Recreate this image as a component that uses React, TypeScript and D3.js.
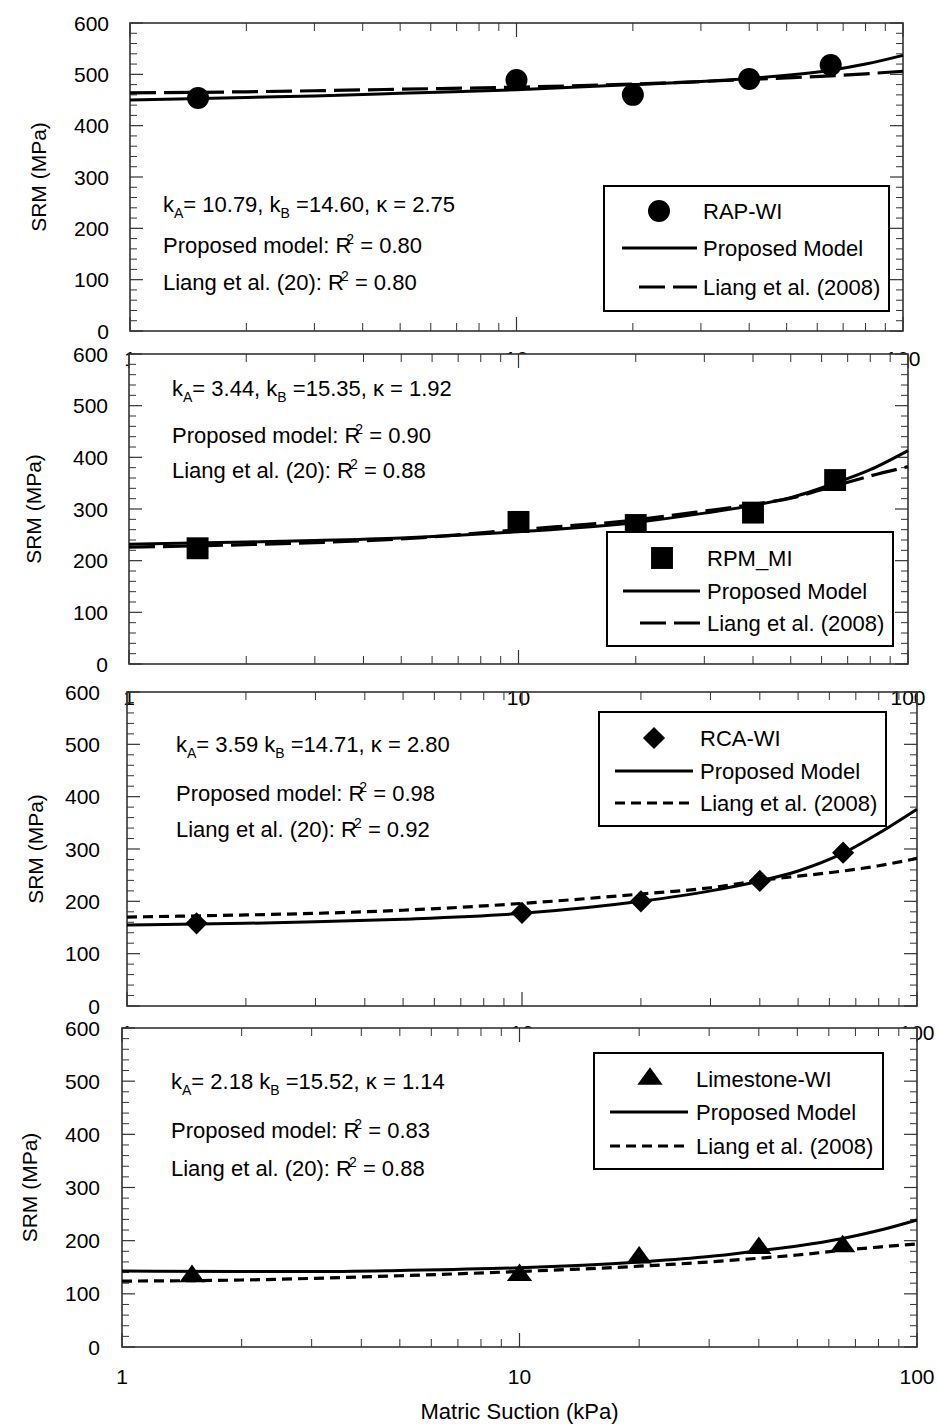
import React from "react";
import * as d3 from "d3";

// ---------- data ----------
const suctionPoints = [1.5, 10, 20, 40, 65];
const rapWI = [454, 489, 460, 491, 518];
const rpmMI = [224, 275, 269, 293, 356];
const rcaWI = [158, 178, 200, 239, 293];
const limestoneWI = [133, 135, 168, 186, 189];

const curveSuction = [1, 2, 3, 5, 10, 20, 30, 40, 50, 65, 80, 100];
const rapProposed = [450, 455, 458, 463, 470, 480, 486, 492, 498, 508, 520, 537];
const rapLiang = [464, 466, 468, 471, 475, 481, 486, 490, 493, 497, 501, 506];
const rpmProposed = [232, 236, 239, 244, 256, 274, 292, 307, 322, 350, 376, 413];
const rpmLiang = [226, 231, 235, 242, 260, 279, 296, 309, 321, 345, 364, 382];
const rcaProposed = [155, 158, 161, 166, 177, 200, 220, 239, 258, 292, 330, 376];
const rcaLiang = [170, 174, 177, 183, 196, 214, 226, 240, 248, 258, 268, 282];
const limeProposed = [143, 142, 142, 144, 149, 160, 170, 181, 190, 204, 219, 239];
const limeLiang = [124, 126, 129, 134, 142, 152, 160, 167, 173, 182, 188, 194];

const seriesNames = ["RAP-WI", "RPM_MI", "RCA-WI", "Limestone-WI"];
const kA = ["10.79", "3.44", "3.59", "2.18"];
const kB = ["14.60", "15.35", "14.71", "15.52"];
const kappa = ["2.75", "1.92", "2.80", "1.14"];
const kASep = [",", ",", "", ""];
const r2Proposed = ["0.80", "0.90", "0.98", "0.83"];
const r2Liang = ["0.80", "0.88", "0.92", "0.88"];

const yTicks = [0, 100, 200, 300, 400, 500, 600];
const xTickLabels = [1, 10, 100];
const yTitle = "SRM (MPa)";
const xTitle = "Matric Suction (kPa)";
const legendProposed = "Proposed Model";
const legendLiang = "Liang et al. (2008)";

// ---------- layout ----------
const layouts = [
  { left: 130, right: 903, top: 23, bottom: 331, yLabX: 109, yTitleX: 38, xLabY: 358, cover: false,
    annX: 163, annY: [212, 253, 290], dash: "26,8",
    leg: { x0: 604, x1: 889, y0: 186, y1: 311, mx: 659, l0: 622, l1: 697, tx: 703, rows: [211, 248, 287] } },
  { left: 129, right: 908, top: 354, bottom: 664, yLabX: 108, yTitleX: 33, xLabY: 697, cover: true,
    annX: 172, annY: [396, 443, 478], dash: "26,8",
    leg: { x0: 607, x1: 893, y0: 532, y1: 646, mx: 662, l0: 623, l1: 700, tx: 707, rows: [558, 591, 623] } },
  { left: 127, right: 917, top: 692, bottom: 1006, yLabX: 100, yTitleX: 35, xLabY: 1032, cover: false,
    annX: 176, annY: [752, 801, 837], dash: "10,6",
    leg: { x0: 599, x1: 886, y0: 712, y1: 826, mx: 654, l0: 615, l1: 693, tx: 700, rows: [738, 771, 803] } },
  { left: 122, right: 917, top: 1028, bottom: 1347, yLabX: 100, yTitleX: 29, xLabY: 1376, cover: true,
    annX: 171, annY: [1089, 1138, 1176], dash: "10,6",
    leg: { x0: 594, x1: 883, y0: 1053, y1: 1169, mx: 650, l0: 610, l1: 688, tx: 696, rows: [1079, 1112, 1146] } },
];

const panelData = [
  { pts: rapWI, prop: rapProposed, liang: rapLiang, symbol: d3.symbolCircle, size: 380, extra: "" },
  { pts: rpmMI, prop: rpmProposed, liang: rpmLiang, symbol: d3.symbolSquare, size: 480, extra: "" },
  { pts: rcaWI, prop: rcaProposed, liang: rcaLiang, symbol: d3.symbolSquare, size: 245, extra: " rotate(45)" },
  { pts: limestoneWI, prop: limeProposed, liang: limeLiang, symbol: d3.symbolTriangle, size: 230, extra: " scale(1.1,0.88)" },
];

const FONT = "'Liberation Sans', Arial, sans-serif";
const TXT = 22;

function Panel({ i }: { i: number }) {
  const L = layouts[i];
  const D = panelData[i];
  const x = d3.scaleLog().domain([1, 100]).range([L.left, L.right]);
  const y = d3.scaleLinear().domain([0, 600]).range([L.bottom, L.top]);
  const line = d3
    .line<[number, number]>()
    .x((d) => x(d[0]))
    .y((d) => y(d[1]))
    .curve(d3.curveMonotoneX);
  const propPath = line(curveSuction.map((s, k) => [s, D.prop[k]]) as [number, number][]) || "";
  const liangPath = line(curveSuction.map((s, k) => [s, D.liang[k]]) as [number, number][]) || "";
  const sym = d3.symbol().type(D.symbol).size(D.size)() || "";

  const minorY = d3.range(0, 601, 20).filter((v) => v % 100 !== 0);
  const xMinor: number[] = [];
  [1, 10].forEach((dec) => {
    for (let m = 2; m <= 9; m++) xMinor.push(dec * m);
  });
  const axisColor = "#333";
  const sw = 1.6;

  return (
    <g fontFamily={FONT}>
      {L.cover && (
        <rect x={L.left} y={L.top} width={L.right - L.left} height={L.bottom - L.top} fill="#fff" />
      )}
      <rect x={L.left} y={L.top} width={L.right - L.left} height={L.bottom - L.top} fill="none" stroke={axisColor} strokeWidth={sw} />
      {yTicks.map((v) => (
        <g key={"yt" + v}>
          <line x1={L.left} x2={L.left + 13} y1={y(v)} y2={y(v)} stroke={axisColor} strokeWidth={1.2} />
          <line x1={L.right} x2={L.right - 13} y1={y(v)} y2={y(v)} stroke={axisColor} strokeWidth={1.2} />
          <text x={L.yLabX} y={y(v)} dy="0.36em" textAnchor="end" fontSize={21} fill="#000">
            {v}
          </text>
        </g>
      ))}
      {minorY.map((v) => (
        <g key={"ym" + v}>
          <line x1={L.left} x2={L.left + 7} y1={y(v)} y2={y(v)} stroke={axisColor} strokeWidth={1} />
          <line x1={L.right} x2={L.right - 7} y1={y(v)} y2={y(v)} stroke={axisColor} strokeWidth={1} />
        </g>
      ))}
      {xTickLabels.map((v) => (
        <g key={"xt" + v}>
          <line x1={x(v)} x2={x(v)} y1={L.bottom} y2={L.bottom - 14} stroke={axisColor} strokeWidth={1.2} />
          <line x1={x(v)} x2={x(v)} y1={L.top} y2={L.top + 14} stroke={axisColor} strokeWidth={1.2} />
        </g>
      ))}
      {xMinor.map((v) => (
        <g key={"xm" + v}>
          <line x1={x(v)} x2={x(v)} y1={L.bottom} y2={L.bottom - 8} stroke={axisColor} strokeWidth={1} />
          <line x1={x(v)} x2={x(v)} y1={L.top} y2={L.top + 8} stroke={axisColor} strokeWidth={1} />
        </g>
      ))}
      <text
        transform={`translate(${L.yTitleX},${(L.top + L.bottom) / 2}) rotate(-90)`}
        textAnchor="middle"
        dy="0.36em"
        fontSize={21}
      >
        {yTitle}
      </text>
      <path d={liangPath} fill="none" stroke="#000" strokeWidth={3.2} strokeDasharray={L.dash} />
      <path d={propPath} fill="none" stroke="#000" strokeWidth={3} />
      {suctionPoints.map((s, k) => (
        <path key={"p" + k} d={sym} transform={`translate(${x(s)},${y(D.pts[k])})${D.extra}`} fill="#000" />
      ))}
      <text x={L.annX} y={L.annY[0]} fontSize={TXT}>
        k<tspan dy={6} fontSize={14}>A</tspan>
        <tspan dy={-6}>{`= ${kA[i]}${kASep[i]} k`}</tspan>
        <tspan dy={6} fontSize={14}>B</tspan>
        <tspan dy={-6}>{` =${kB[i]}, \u03BA = ${kappa[i]}`}</tspan>
      </text>
      <text x={L.annX} y={L.annY[1]} fontSize={TXT}>
        {"Proposed model: R"}
        <tspan dx={-5} dy={-9} fontSize={14}>2</tspan>
        <tspan dy={9}>{` = ${r2Proposed[i]}`}</tspan>
      </text>
      <text x={L.annX} y={L.annY[2]} fontSize={TXT}>
        {"Liang et al. (20): R"}
        <tspan dx={-3} dy={-9} fontSize={14}>2</tspan>
        <tspan dy={9}>{`  = ${r2Liang[i]}`}</tspan>
      </text>
      <rect x={L.leg.x0} y={L.leg.y0} width={L.leg.x1 - L.leg.x0} height={L.leg.y1 - L.leg.y0} fill="#fff" stroke="#000" strokeWidth={2} />
      <path d={sym} transform={`translate(${L.leg.mx},${L.leg.rows[0]})${D.extra}`} fill="#000" />
      <line x1={L.leg.l0} x2={L.leg.l1} y1={L.leg.rows[1]} y2={L.leg.rows[1]} stroke="#000" strokeWidth={3} />
      <line x1={i < 2 ? L.leg.l0 + 17 : L.leg.l0} x2={L.leg.l1} y1={L.leg.rows[2]} y2={L.leg.rows[2]} stroke="#000" strokeWidth={3.2} strokeDasharray={L.dash} />
      <text x={L.leg.tx} y={L.leg.rows[0]} dy="0.36em" fontSize={TXT}>{seriesNames[i]}</text>
      <text x={L.leg.tx} y={L.leg.rows[1]} dy="0.36em" fontSize={TXT}>{legendProposed}</text>
      <text x={L.leg.tx} y={L.leg.rows[2]} dy="0.36em" fontSize={TXT}>{legendLiang}</text>
      {xTickLabels.map((v) => (
        <text key={"xl" + v} x={x(v)} y={L.xLabY} dy="0.36em" textAnchor="middle" fontSize={21}>
          {v}
        </text>
      ))}
    </g>
  );
}

export default function App() {
  const last = layouts[layouts.length - 1];
  return (
    <svg
      width={938}
      height={1424}
      style={{ position: "absolute", left: 0, top: 0, background: "#fff" }}
    >
      <rect width={938} height={1424} fill="#fff" />
      {layouts.map((_, i) => (
        <Panel key={i} i={i} />
      ))}
      <text x={(last.left + last.right) / 2} y={1411} dy="0.36em" textAnchor="middle" fontSize={22} fontFamily={FONT}>
        {xTitle}
      </text>
    </svg>
  );
}
